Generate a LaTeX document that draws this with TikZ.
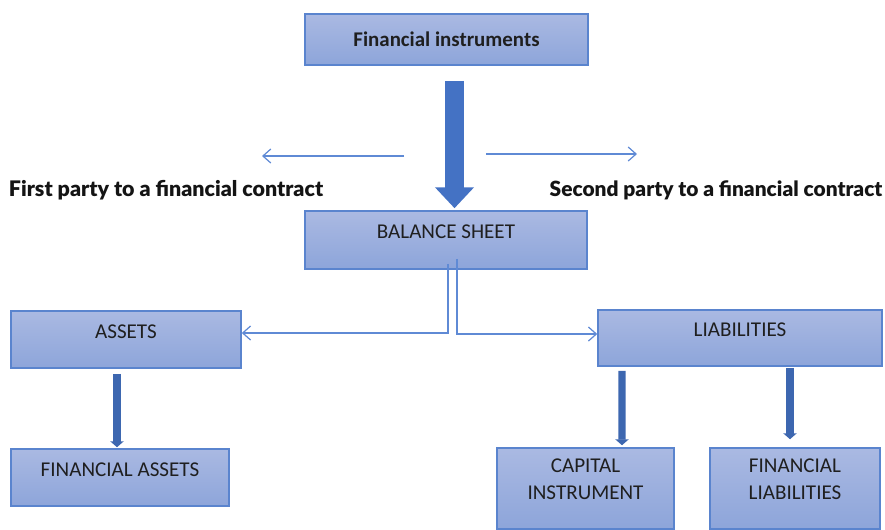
\documentclass[tikz,border=0pt]{standalone}
\usepackage{fontspec}
\setmainfont{Carlito}
\newfontfamily\partyfont[BoldFont={Lato Black}]{Lato}
\usepackage{tikz}
\usetikzlibrary{positioning,arrows.meta}
\definecolor{accblue}{HTML}{4472C4}
\definecolor{boxtop}{HTML}{AAB9E2}
\definecolor{boxbot}{HTML}{8DA5DA}
\definecolor{boxedge}{HTML}{5A84CE}
\definecolor{lnblue}{HTML}{5F8AD5}
\newcommand{\lifttxt}[1]{\raisebox{4.5pt}[\height][\depth]{#1}}
\tikzset{
  box/.style={draw=boxedge, line width=0.9pt, top color=boxtop, bottom color=boxbot, inner sep=0pt, align=center, font=\fontsize{12}{15.3}\selectfont, text=black!88},
  thn/.style={draw=lnblue, line width=0.7pt, -{Straight Barb[length=4.5pt, width=8pt]}},
  fat/.style={draw=accblue, line width=10.8pt, -{Triangle[length=11.9pt, width=21.5pt]}},
  thk/.style={draw=accblue!90!black, line width=4pt, -{Triangle[length=3.4pt, width=7.6pt]}},
  side/.style={font=\partyfont\bfseries\fontsize{12.2}{13}\selectfont, text=black!92},
}
\begin{document}
\begin{tikzpicture}[x=0.02cm, y=-0.02cm]
\useasboundingbox (0,0) rectangle (885,529);
% boxes
\node[box, minimum width=5.66cm, minimum height=1.02cm, font=\bfseries\fontsize{11.9}{15.3}\selectfont] (fi) at (446.5,39.5) {Financial instruments};
\node[box, minimum width=5.64cm, minimum height=1.16cm] (bs) at (446,240) {\lifttxt{BALANCE SHEET}};
\node[box, minimum width=4.6cm, minimum height=1.14cm] (as) at (126,339.5) {\lifttxt{ASSETS}};
\node[box, minimum width=5.68cm, minimum height=1.12cm] (li) at (740,338) {\lifttxt{LIABILITIES}};
\node[box, minimum width=4.36cm, minimum height=1.14cm] (fa) at (120,477.5) {\lifttxt{FINANCIAL ASSETS}};
\node[box, minimum width=3.54cm, minimum height=1.62cm] (ci) at (585.5,488.5) {\lifttxt{\begin{tabular}{@{}c@{}}CAPITAL\\INSTRUMENT\end{tabular}}};
\node[box, minimum width=3.4cm, minimum height=1.62cm] (fl) at (795,488.5) {\lifttxt{\begin{tabular}{@{}c@{}}FINANCIAL\\LIABILITIES\end{tabular}}};
% parties
\node[side] (p1) at (166,190) {First party to a financial contract};
\node[side, font=\partyfont\bfseries\fontsize{11.9}{13}\selectfont] (p2) at (716,190) {Second party to a financial contract};
\coordinate (l1) at (404,156); \coordinate (l2) at (262,156);
\coordinate (r1) at (486,154); \coordinate (r2) at (637,154);
\draw[thn] (l1) -- (l2);
\draw[thn] (r1) -- (r2);
% arrows
\draw[fat] ([shift={(8,15)}]fi.south) -- ([shift={(8.5,-2)}]bs.north);
\draw[thn] ([shift={(2,-6)}]bs.south) |- ([shift={(0,-6.5)}]as.east);
\draw[thn] ([shift={(11,-11)}]bs.south) |- ([shift={(0,-4)}]li.west);
\draw[thk] ([shift={(-9,5)}]as.south) -- ([shift={(-3,-1)}]fa.north);
\draw[thk] ([shift={(-118,4)}]li.south) -- ([shift={(36.5,-2)}]ci.north);
\draw[thk] ([shift={(50,1)}]li.south) -- ([shift={(-5,-8)}]fl.north);
\end{tikzpicture}
\end{document}
